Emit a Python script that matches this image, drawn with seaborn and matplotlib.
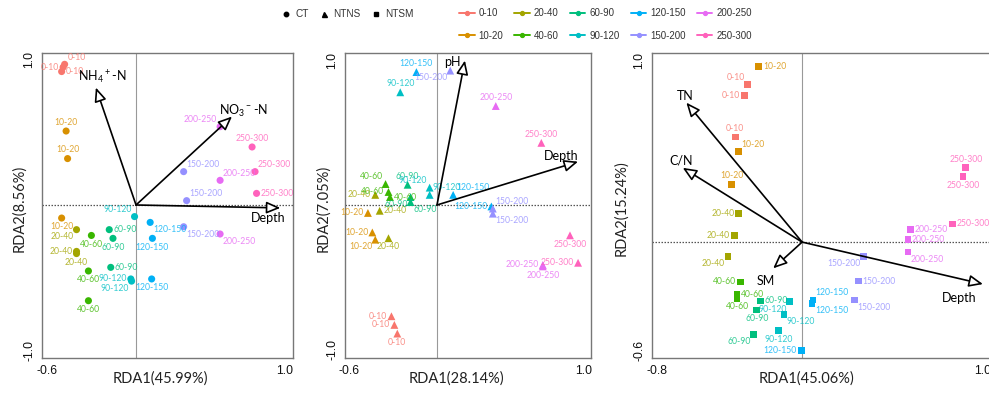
import numpy as np
import pandas as pd
import matplotlib
matplotlib.use("Agg")
import matplotlib.pyplot as plt
from matplotlib.lines import Line2D
import seaborn as sns

# ---------------- data ----------------
depth_levels = ['0-10', '10-20', '20-40', '40-60', '60-90', '90-120',
                '120-150', '150-200', '200-250', '250-300']
palette = ['#F8766D', '#D89000', '#A3A500', '#39B600', '#00BF7D', '#00BFC4',
           '#00B0F6', '#9590FF', '#E76BF3', '#FF62BC']

sample_depth = ['0-10', '0-10', '0-10', '10-20', '10-20', '10-20',
                '20-40', '20-40', '20-40', '40-60', '40-60', '40-60',
                '60-90', '60-90', '60-90', '90-120', '90-120', '90-120',
                '120-150', '120-150', '120-150', '150-200', '150-200', '150-200',
                '200-250', '200-250', '200-250', '250-300', '250-300', '250-300']

# CT (circles)
ct_x = [-0.50, -0.49, -0.48, -0.47, -0.46, -0.50, -0.40, -0.40, -0.40,
        -0.30, -0.32, -0.32, -0.18, -0.155, -0.17, -0.01, -0.035, -0.03,
        0.095, 0.11, 0.105, 0.32, 0.34, 0.32, 0.565, 0.565, 0.565,
        0.78, 0.80, 0.81]
ct_y = [0.92, 0.95, 0.97, 0.51, 0.32, -0.09, -0.17, -0.32, -0.335,
        -0.21, -0.455, -0.66, -0.17, -0.23, -0.43, -0.08, -0.51, -0.525,
        -0.12, -0.23, -0.51, 0.23, 0.03, -0.15, 0.54, 0.17, -0.20,
        0.40, 0.23, 0.08]
ct_env = ['NH$_4$$^+$-N', 'NO$_3$$^-$-N', 'Depth']
ct_env_x = [-0.27, 0.645, 0.97]
ct_env_y = [0.81, 0.61, -0.02]

# NTNS (triangles)
ntns_x = [-0.31, -0.29, -0.27, -0.47, -0.44, -0.42, -0.42, -0.39, -0.33,
          -0.35, -0.33, -0.32, -0.20, -0.18, -0.18, -0.25, -0.05, -0.05,
          -0.14, 0.11, 0.37, 0.09, 0.38, 0.38, 0.40, 0.72, 0.72,
          0.71, 0.905, 0.96]
ntns_y = [-0.77, -0.83, -0.89, -0.055, -0.19, -0.24, 0.07, -0.04, -0.23,
          0.145, 0.09, 0.055, 0.14, 0.055, 0.02, 0.78, 0.12, 0.07,
          0.92, 0.07, -0.01, 0.93, -0.025, -0.06, 0.685, -0.415, -0.425,
          0.43, -0.21, -0.40]
ntns_env = ['pH', 'Depth']
ntns_env_x = [0.19, 0.96]
ntns_env_y = [1.00, 0.30]

# NTSM (squares)
ntsm_x = [-0.30, -0.32, -0.37, -0.24, -0.35, -0.39, -0.35, -0.375, -0.41,
          -0.34, -0.36, -0.36, -0.23, -0.25, -0.27, -0.07, -0.10, -0.13,
          0.06, 0.055, -0.005, 0.34, 0.31, 0.29, 0.60, 0.585, 0.585,
          0.905, 0.89, 0.83]
ntsm_y = [0.87, 0.81, 0.58, 0.97, 0.50, 0.32, 0.16, 0.035, -0.08,
          -0.22, -0.29, -0.31, -0.325, -0.375, -0.51, -0.33, -0.40, -0.49,
          -0.32, -0.34, -0.60, -0.08, -0.215, -0.32, 0.07, 0.015, -0.055,
          0.41, 0.36, 0.10]
ntsm_env = ['TN', 'C/N', 'SM', 'Depth']
ntsm_env_x = [-0.64, -0.66, -0.16, 1.00]
ntsm_env_y = [0.77, 0.41, -0.145, -0.232]

# ---------------- layout (label placement codes, offsets) ----------------
ct_pos = ['r', 'l', 'ar', 'a', 'a', 'b', 'bl', 'l', 'b', 'b', 'b', 'b',
          'r', 'b', 'r', 'al', 'l', 'bl', 'br', 'b', 'b', 'ar', 'ar', 'br',
          'al', 'ar', 'br', 'a', 'ar', 'r']
ntns_pos = ['l', 'l', 'b', 'l', 'l', 'bl', 'l', 'r', 'b', 'al', 'l', 'r',
            'a', 'bl', 'br', 'a', 'al', 'ar', 'a', 'ar', 'l', 'bl', 'ar', 'br',
            'a', 'l', 'b', 'a', 'b', 'l']
ntsm_pos = ['al', 'l', 'a', 'r', 'ar', 'a', 'l', 'l', 'bl', 'l', 'r', 'b',
            'r', 'b', 'bl', 'bl', 'br', 'b', 'ar', 'br', 'l', 'bl', 'r', 'br',
            'r', 'r', 'br', 'a', 'b', 'r']
ct_env_off = [(5, 7), (8, 4), (-9, -7)]
ntns_env_off = [(-9, -1), (-12, 4)]
ntsm_env_off = [(-1, 5), (-1, 5), (-5, -9), (-17, -10)]

CODES = {
    'r': (3, 0, 'left', 'center'), 'l': (-3, 0, 'right', 'center'),
    'a': (0, 3, 'center', 'bottom'), 'b': (0, -3, 'center', 'top'),
    'ar': (2, 2, 'left', 'bottom'), 'al': (-2, 2, 'right', 'bottom'),
    'br': (2, -2, 'left', 'top'), 'bl': (-2, -2, 'right', 'top'),
}

sns.set_theme(style='white')
plt.rcParams['font.family'] = ['Lato', 'DejaVu Sans']
plt.rcParams['axes.unicode_minus'] = False
plt.rcParams['mathtext.default'] = 'regular'

fig = plt.figure(figsize=(9.89, 3.96), dpi=100)
ax1 = fig.add_axes([42 / 989, 38 / 396, 251 / 989, 305 / 396])
ax2 = fig.add_axes([345 / 989, 38 / 396, 246 / 989, 305 / 396])
ax3 = fig.add_axes([652 / 989, 38 / 396, 340 / 989, 305 / 396])

col_of = dict(zip(depth_levels, palette))


def draw_panel(ax, xs, ys, pos, marker, size, env, ex, ey, eoff,
               xlab, ylab, xlim, ylim, xticks, xtl, yticks, ytl, xlab_x):
    df = pd.DataFrame({'x': xs, 'y': ys, 'depth': sample_depth})
    ax.axhline(0, color='#555555', lw=0.9, ls=(0, (1.2, 1.2)), zorder=1)
    ax.axvline(0, color='#999999', lw=0.8, zorder=1)
    sns.scatterplot(data=df, x='x', y='y', hue='depth', hue_order=depth_levels,
                    palette=palette, marker=marker, s=size, linewidth=0,
                    legend=False, ax=ax, zorder=3)
    for xi, yi, d, p in zip(xs, ys, sample_depth, pos):
        dx, dy, ha, va = CODES[p]
        ax.annotate(d, (xi, yi), xytext=(dx, dy), textcoords='offset points',
                    ha=ha, va=va, fontsize=6.2, color=col_of[d], alpha=0.8,
                    zorder=4)
    for name, tx, ty, (ox, oy) in zip(env, ex, ey, eoff):
        ax.annotate('', xy=(tx, ty), xytext=(0, 0),
                    arrowprops=dict(arrowstyle='-|>,head_length=0.7,head_width=0.3',
                                    facecolor='white', edgecolor='black',
                                    lw=1.2, shrinkA=0, shrinkB=0), zorder=5)
        ax.annotate(name, (tx, ty), xytext=(ox, oy), textcoords='offset points',
                    ha='center', va='center', fontsize=9, color='black', zorder=6)
    ax.set_xlim(*xlim)
    ax.set_ylim(*ylim)
    ax.set_xticks(xticks)
    ax.set_xticklabels(xtl)
    ax.set_yticks(yticks)
    ax.set_yticklabels(ytl, rotation=90, va='center')
    for lab in ax.get_xticklabels() + ax.get_yticklabels():
        lab.set_fontfamily(['Liberation Sans', 'DejaVu Sans'])
        lab.set_fontsize(8.8)
    ax.tick_params(axis='both', which='major', direction='out', length=2.5,
                   width=0.8, color='#777777', pad=2.5, labelcolor='#111111')
    for sp in ax.spines.values():
        sp.set_color('#777777')
        sp.set_linewidth(1.0)
    ax.set_xlabel(xlab, fontsize=10.5, color='#222222')
    ax.set_ylabel(ylab, fontsize=10.5, color='#222222')
    ax.xaxis.set_label_coords(xlab_x, -0.069)
    ax.xaxis.label.set_va('center')
    ax.yaxis.set_label_coords(-0.09, 0.49)
    ax.yaxis.label.set_va('center')


xt1 = [-0.6, -0.4, -0.2, 0.0, 0.2, 0.4, 0.6, 0.8, 1.0]
xtl1 = ['-0.6', '', '', '', '', '', '', '', '1.0']
yt1 = [-1.0, -0.5, 0.0, 0.5, 1.0]
ytl1 = ['-1.0', '', '', '', '1.0']

draw_panel(ax1, ct_x, ct_y, ct_pos, 'o', 26, ct_env, ct_env_x, ct_env_y,
           ct_env_off, 'RDA1(45.99%)', 'RDA2(8.56%)', (-0.632, 1.055),
           (-1.055, 1.048), xt1, xtl1, yt1, ytl1, 0.47)
draw_panel(ax2, ntns_x, ntns_y, ntns_pos, '^', 32, ntns_env, ntns_env_x,
           ntns_env_y, ntns_env_off, 'RDA1(28.14%)', 'RDA2(7.05%)',
           (-0.626, 1.048), (-1.059, 1.052), xt1, xtl1, yt1, ytl1, 0.455)
draw_panel(ax3, ntsm_x, ntsm_y, ntsm_pos, 's', 24, ntsm_env, ntsm_env_x,
           ntsm_env_y, ntsm_env_off, 'RDA1(45.06%)', 'RDA2(15.24%)',
           (-0.83, 1.05), (-0.64, 1.044),
           [-0.8, -0.5, 0.0, 0.5, 1.0], ['-0.8', '', '', '', '1.0'],
           [-0.6, -0.4, -0.2, 0.0, 0.2, 0.4, 0.6, 0.8, 1.0],
           ['-0.6', '', '', '', '', '', '', '', '1.0'], 0.453)

# ---------------- legends ----------------
shape_handles = [Line2D([], [], marker=m, color='black', ls='', markersize=ms)
                 for m, ms in zip(['o', '^', 's'], [3.2, 3.6, 3.2])]
leg1 = fig.legend(shape_handles, ['CT', 'NTNS', 'NTSM'], loc='center left',
                  bbox_to_anchor=(281 / 989, 1 - 14 / 396), ncol=3,
                  frameon=False, handlelength=0.9, handletextpad=0.5,
                  columnspacing=1.1, borderpad=0, borderaxespad=0,
                  prop={'family': ['Liberation Sans'], 'size': 7.2})
for t in leg1.get_texts():
    t.set_color('#333333')

color_handles = [Line2D([], [], color=c, marker='o', markersize=2.8, lw=1.4)
                 for c in palette]
leg2 = fig.legend(color_handles, depth_levels, loc='upper left',
                  bbox_to_anchor=(459 / 989, 1 - 8 / 396), ncol=5,
                  frameon=False, handlelength=1.6, handletextpad=0.4,
                  columnspacing=1.15, labelspacing=1.3, borderpad=0,
                  borderaxespad=0,
                  prop={'family': ['Liberation Sans'], 'size': 7.0})
for t in leg2.get_texts():
    t.set_color('#333333')

fig.savefig('out.png', dpi=100)
